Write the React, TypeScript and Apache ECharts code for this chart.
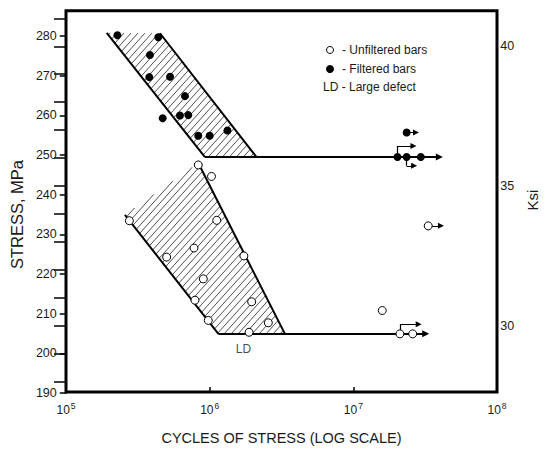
import React, { useEffect, useRef } from "react";
import * as echarts from "echarts";

const FONT = "'Liberation Sans', Arial, Helvetica, sans-serif";

// Axis ticks
const cycleTicks = [1e5, 1e6, 1e7, 1e8];
const stressTicks = [190, 200, 210, 220, 230, 240, 250, 260, 270, 280];
const ksiLabels = [30, 35, 40];

// Filtered bars (filled circles): [cycles, MPa]
const filteredBars: [number, number][] = [
  [2.28e5, 280.2], [4.39e5, 279.7], [3.84e5, 275.2], [3.8e5, 269.6], [5.3e5, 269.7],
  [6.73e5, 264.8], [4.71e5, 259.2], [6.21e5, 259.9], [7.1e5, 260.0], [8.33e5, 254.8],
  [1.0e6, 254.8], [1.33e6, 256.1],
  [2.03e7, 249.4], [2.35e7, 249.4], [2.95e7, 249.4], [2.35e7, 255.6],
];

// Unfiltered bars (open circles): [cycles, MPa]
const unfilteredBars: [number, number][] = [
  [8.33e5, 247.4], [1.03e6, 244.5], [2.76e5, 233.3], [1.12e6, 233.4], [7.78e5, 226.4],
  [5.02e5, 224.1], [1.73e6, 224.4], [9.03e5, 218.6], [7.9e5, 213.2], [1.96e6, 212.8],
  [9.78e5, 208.1], [2.56e6, 207.5], [1.88e6, 205.1],
  [2.11e7, 204.7], [2.59e7, 204.7], [3.32e7, 232.0], [1.59e7, 210.6],
];

// Scatter bands (hatched)
const filteredBand: [number, number][] = [[1.92e5, 280.8], [4.51e5, 280.7], [2.12e6, 249.4], [9.27e5, 249.4]];
const unfilteredBand: [number, number][] = [[2.57e5, 234.8], [8.33e5, 247.9], [3.34e6, 204.7], [1.15e6, 204.7]];
const bands = [filteredBand, unfilteredBand];

// Band boundary lines
const bandEdges: [number, number][][] = [
  [[1.92e5, 280.8], [9.27e5, 249.4]],
  [[4.51e5, 280.7], [2.12e6, 249.4]],
  [[2.57e5, 234.8], [1.15e6, 204.7]],
  [[8.33e5, 247.9], [3.34e6, 204.7]],
];

// Run-out (endurance) lines with arrows
const runoutLines: [number, number][][] = [
  [[9.27e5, 249.4], [3.97e7, 249.4]],
  [[1.15e6, 204.7], [3.19e7, 204.7]],
];

// Vertical risers of the stacked run-out markers
const runoutRisers: [number, number][][] = [
  [[2.03e7, 249.4], [2.03e7, 252.2]],
  [[2.35e7, 249.4], [2.35e7, 247.2]],
  [[2.11e7, 204.7], [2.11e7, 207.1]],
];

// Small run-out arrows
const runoutArrows: [number, number][][] = [
  [[2.35e7, 255.6], [2.73e7, 255.6]],
  [[3.32e7, 232.0], [4.07e7, 232.0]],
  [[2.03e7, 252.2], [2.62e7, 252.2]],
  [[2.35e7, 247.2], [2.65e7, 247.2]],
  [[2.11e7, 207.1], [2.85e7, 207.1]],
];

const ldLabel: [number, number] = [1.72e6, 200.8];

export default function App() {
  const ref = useRef<HTMLDivElement>(null);
  useEffect(() => {
    const chart = echarts.init(ref.current!, undefined, { renderer: "svg" });
    const txt = { fontFamily: FONT, color: "#1a1a1a" };
    const option: any = {
      animation: false,
      backgroundColor: "#fff",
      grid: [
        { left: 66, right: 51, top: 10.7, bottom: 57, show: true, borderColor: "#000", borderWidth: 3, backgroundColor: "transparent" },
        { left: 66, right: 51, top: 36, bottom: 57 },
        { left: 66, right: 51, top: 18.3, bottom: 68.3 },
      ],
      xAxis: [
        {
          type: "log", gridIndex: 0, logBase: 10,
          min: cycleTicks[0], max: cycleTicks[cycleTicks.length - 1],
          axisLine: { show: false },
          axisTick: { show: true, inside: true, length: 5, lineStyle: { color: "#000", width: 1.5 } },
          splitLine: { show: false },
          axisLabel: {
            margin: 9,
            formatter: (v: number) => `{b|10}{s|${Math.round(Math.log10(v))}}`,
            rich: {
              b: { fontSize: 12, ...txt },
              s: { fontSize: 8.5, padding: [0, 0, 8, 1], ...txt },
            },
          },
          name: "CYCLES OF STRESS (LOG SCALE)", nameLocation: "middle", nameGap: 38,
          nameTextStyle: { fontSize: 14.5, ...txt },
        },
        { type: "value", gridIndex: 1, show: false },
        { type: "value", gridIndex: 2, show: false },
      ],
      yAxis: [
        { type: "value", gridIndex: 0, min: 190, max: 286.4, show: false },
        {
          type: "value", gridIndex: 1,
          min: stressTicks[0], max: stressTicks[stressTicks.length - 1], interval: 10,
          axisLine: { show: false },
          axisTick: { show: true, length: 7, lineStyle: { color: "#000", width: 1.5 } },
          splitLine: { show: false },
          axisLabel: { margin: 10, fontSize: 12.5, ...txt },
          name: "STRESS, MPa", nameLocation: "middle", nameGap: 37, nameRotate: 90,
          nameTextStyle: { fontSize: 16.5, ...txt },
        },
        {
          type: "value", gridIndex: 2, position: "right",
          min: 28, max: 41, interval: 1,
          axisLine: { show: false },
          axisTick: { show: true, inside: true, length: 12, lineStyle: { color: "#000", width: 1.5 } },
          splitLine: { show: false },
          axisLabel: {
            margin: 10, fontSize: 12.5, ...txt,
            formatter: (v: number) => (ksiLabels.includes(v) ? String(v) : ""),
          },
          name: "Ksi", nameLocation: "middle", nameGap: 31, nameRotate: 90,
          nameTextStyle: { fontSize: 15, ...txt },
        },
      ],
      series: [
        {
          type: "custom", xAxisIndex: 0, yAxisIndex: 0, silent: true, clip: false, z: 1,
          data: bands.map((b, i) => [b[0][0], b[0][1], i]),
          renderItem: (params: any, api: any) => {
            const band = bands[api.value(2)];
            const pts = band.map((p) => api.coord(p));
            const theta = (48 * Math.PI) / 180;
            const nx = Math.sin(theta), ny = Math.cos(theta);
            const proj = pts.map((p: number[]) => p[0] * nx + p[1] * ny);
            const lo = Math.min(...proj), hi = Math.max(...proj);
            const step = 5.2;
            const children: any[] = [];
            const n = pts.length;
            for (let c = lo + step / 2; c < hi; c += step) {
              const hits: number[][] = [];
              for (let i = 0; i < n; i++) {
                const a = pts[i], b = pts[(i + 1) % n];
                const fa = proj[i] - c, fb = proj[(i + 1) % n] - c;
                if ((fa < 0) !== (fb < 0)) {
                  const t = fa / (fa - fb);
                  hits.push([a[0] + t * (b[0] - a[0]), a[1] + t * (b[1] - a[1])]);
                }
              }
              if (hits.length >= 2) {
                hits.sort((p, q) => p[0] - q[0]);
                children.push({
                  type: "line",
                  shape: { x1: hits[0][0], y1: hits[0][1], x2: hits[hits.length - 1][0], y2: hits[hits.length - 1][1] },
                  style: { stroke: "#3a3a3a", lineWidth: 0.9 },
                });
              }
            }
            return { type: "group", children };
          },
        },
        {
          type: "lines", coordinateSystem: "cartesian2d", xAxisIndex: 0, yAxisIndex: 0,
          silent: true, z: 2,
          data: bandEdges.map((c) => ({ coords: c })),
          symbol: ["none", "none"],
          lineStyle: { color: "#000", width: 2, opacity: 1 },
        },
        {
          type: "lines", coordinateSystem: "cartesian2d", xAxisIndex: 0, yAxisIndex: 0,
          silent: true, z: 2,
          data: runoutLines.map((c) => ({ coords: c })),
          symbol: ["none", "triangle"], symbolSize: [5.5, 7],
          lineStyle: { color: "#000", width: 2, opacity: 1 },
          itemStyle: { color: "#000" },
        },
        {
          type: "lines", coordinateSystem: "cartesian2d", xAxisIndex: 0, yAxisIndex: 0,
          silent: true, z: 2,
          data: runoutRisers.map((c) => ({ coords: c })),
          symbol: ["none", "none"],
          lineStyle: { color: "#000", width: 1.2, opacity: 1 },
        },
        {
          type: "lines", coordinateSystem: "cartesian2d", xAxisIndex: 0, yAxisIndex: 0,
          silent: true, z: 2,
          data: runoutArrows.map((c) => ({ coords: c })),
          symbol: ["none", "triangle"], symbolSize: [5, 6],
          lineStyle: { color: "#000", width: 1.2, opacity: 1 },
          itemStyle: { color: "#000" },
        },
        {
          name: "Unfiltered bars", type: "scatter", xAxisIndex: 0, yAxisIndex: 0, z: 5,
          data: unfilteredBars, symbol: "circle", symbolSize: 8,
          itemStyle: { color: "#fff", borderColor: "#000", borderWidth: 1, opacity: 1 },
        },
        {
          name: "Filtered bars", type: "scatter", xAxisIndex: 0, yAxisIndex: 0, z: 5,
          data: filteredBars, symbol: "circle", symbolSize: 8,
          itemStyle: { color: "#000", opacity: 1 },
        },
        {
          type: "scatter", xAxisIndex: 0, yAxisIndex: 0, z: 5, silent: true,
          data: [ldLabel], symbolSize: 1, itemStyle: { color: "transparent" },
          label: { show: true, position: "inside", formatter: "LD", fontSize: 12, ...txt },
        },
      ],
      graphic: [
        { type: "circle", shape: { cx: 330, cy: 50, r: 3.5 }, style: { fill: "#fff", stroke: "#000", lineWidth: 1 } },
        { type: "text", x: 342, y: 50, style: { text: "- Unfiltered bars", fontSize: 12, fontFamily: FONT, fill: "#1a1a1a", verticalAlign: "middle" } },
        { type: "circle", shape: { cx: 330, cy: 69, r: 4 }, style: { fill: "#000" } },
        { type: "text", x: 342, y: 69, style: { text: "- Filtered bars", fontSize: 12, fontFamily: FONT, fill: "#1a1a1a", verticalAlign: "middle" } },
        { type: "text", x: 323, y: 87, style: { text: "LD - Large defect", fontSize: 12, fontFamily: FONT, fill: "#1a1a1a", verticalAlign: "middle" } },
      ],
    };
    chart.setOption(option);
    return () => chart.dispose();
  }, []);
  return <div ref={ref} style={{ position: "fixed", left: 0, top: 0, width: 548, height: 450 }} />;
}
